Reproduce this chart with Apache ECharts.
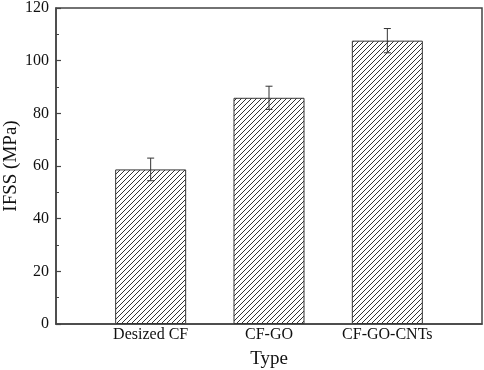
<!DOCTYPE html>
<html>
<head>
<meta charset="utf-8">
<script src="https://cdn.jsdelivr.net/npm/echarts@6/dist/echarts.min.js"></script>
<style>
  html, body { margin: 0; padding: 0; background: #fff; }
  #chart { width: 484px; height: 370px; }
</style>
</head>
<body>
<div id="chart"></div>
<script>
const types = ["Desized CF", "CF-GO", "CF-GO-CNTs"];
const ifss = [58.7, 85.9, 107.6];
const errors = [4.3, 4.4, 4.6];
const positions = [1, 2, 3];

const font = "'Liberation Serif', 'Times New Roman', serif";

// hatch tile: "/" lines
const makeHatch = () => {
  const size = 5;
  const c = document.createElement("canvas");
  c.width = size;
  c.height = size;
  const ctx = c.getContext("2d");
  ctx.fillStyle = "#fff";
  ctx.fillRect(0, 0, size, size);
  ctx.strokeStyle = "#333";
  ctx.lineWidth = 1;
  ctx.beginPath();
  ctx.moveTo(-1, size + 1);
  ctx.lineTo(size + 1, -1);
  ctx.moveTo(-1, 1);
  ctx.lineTo(1, -1);
  ctx.moveTo(size - 1, size + 1);
  ctx.lineTo(size + 1, size - 1);
  ctx.stroke();
  return c;
};

const barData = positions.map((p, i) => [p, ifss[i]]);
const errData = positions.map((p, i) => [p, ifss[i] - errors[i], ifss[i] + errors[i]]);

const myChart = echarts.init(document.getElementById("chart"));
const option = {
  animation: false,
  grid: {
    left: 56,
    top: 8,
    right: 2,
    bottom: 46,
    containLabel: false,
    outerBoundsMode: "none",
    show: true,
    borderColor: "#444",
    borderWidth: 1.5,
  },
  xAxis: {
    type: "value",
    min: 0.2,
    max: 3.8,
    name: "Type",
    nameLocation: "middle",
    nameGap: 26,
    nameMoveOverlap: false,
    nameTextStyle: { fontFamily: font, fontSize: 19, color: "#111" },
    axisLine: { show: true, lineStyle: { color: "#444", width: 1.5 } },
    axisTick: { show: false },
    splitLine: { show: false },
    axisLabel: {
      customValues: positions,
      formatter: (v) => types[positions.indexOf(v)] || "",
      fontFamily: font,
      fontSize: 16,
      color: "#111",
      margin: 3,
    },
  },
  yAxis: {
    type: "value",
    min: 0,
    max: 120,
    interval: 20,
    name: "IFSS (MPa)",
    nameLocation: "middle",
    nameGap: 35,
    nameMoveOverlap: false,
    nameTextStyle: { fontFamily: font, fontSize: 19, color: "#111" },
    axisLine: { show: true, lineStyle: { color: "#444", width: 1.5 } },
    axisTick: { show: true, inside: true, length: 5, lineStyle: { color: "#444", width: 1.2 } },
    minorTick: { show: true, splitNumber: 2, length: 3, lineStyle: { color: "#444", width: 1 } },
    splitLine: { show: false },
    axisLabel: { fontFamily: font, fontSize: 16, color: "#111", margin: 7 },
  },
  series: [
    {
      type: "bar",
      barWidth: 71,
      data: barData,
      itemStyle: {
        color: { image: makeHatch(), repeat: "repeat" },
        borderColor: "#333",
        borderWidth: 1,
      },
    },
    {
      type: "custom",
      data: errData,
      z: 10,
      renderItem: (params, api) => {
        const x = api.value(0);
        const lo = api.coord([x, api.value(1)]);
        const hi = api.coord([x, api.value(2)]);
        const half = 3.5;
        const style = { stroke: "#333", lineWidth: 1 };
        return {
          type: "group",
          children: [
            { type: "line", shape: { x1: hi[0], y1: hi[1], x2: lo[0], y2: lo[1] }, style },
            { type: "line", shape: { x1: hi[0] - half, y1: hi[1], x2: hi[0] + half, y2: hi[1] }, style },
            { type: "line", shape: { x1: lo[0] - half, y1: lo[1], x2: lo[0] + half, y2: lo[1] }, style },
          ],
        };
      },
    },
  ],
};
myChart.setOption(option);
</script>
</body>
</html>
